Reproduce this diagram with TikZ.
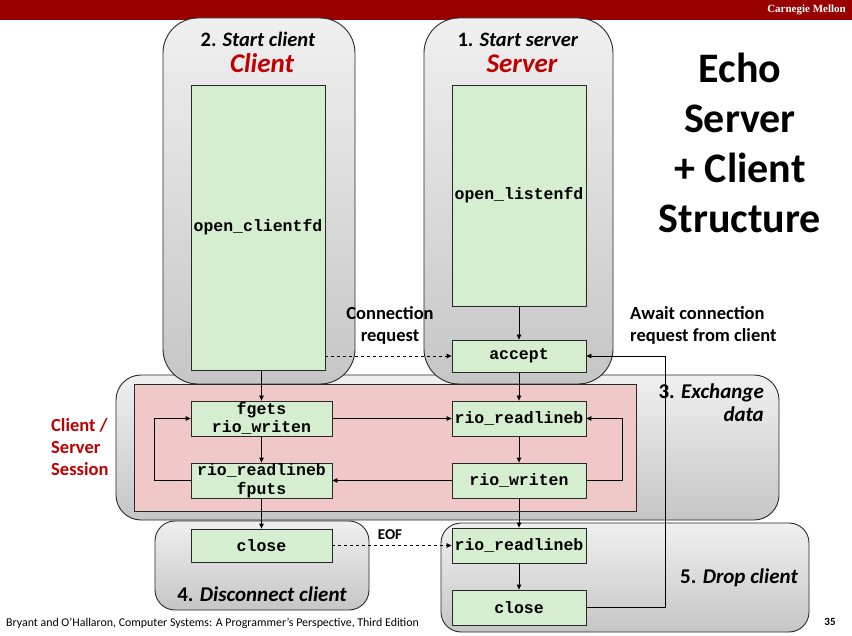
\documentclass[tikz,border=0pt]{standalone}
\usepackage{fontspec}
\setmainfont{Carlito}
\setmonofont{Liberation Mono}
\newfontfamily\timesf{Liberation Serif}
\usetikzlibrary{arrows.meta}
\definecolor{cmured}{RGB}{153,0,0}
\definecolor{labred}{RGB}{192,0,0}
\definecolor{boxgreen}{RGB}{214,238,208}
\definecolor{sesspink}{RGB}{240,200,200}
\definecolor{edge}{RGB}{40,40,40}
\tikzset{
  panel/.style={draw=edge, line width=0.9pt, top color=gray!12, bottom color=gray!45},
  fn/.style={draw=edge, line width=0.8pt, fill=boxgreen, inner sep=0pt, align=center,
    font=\ttfamily\bfseries\fontsize{16.5}{18.5}\selectfont},
  arr/.style={draw=black, line width=0.8pt, -{Triangle[length=5pt,width=4.5pt]}},
  lbl/.style={font=\bfseries\fontsize{18.5}{22}\selectfont, align=center, inner sep=0pt},
  stage/.style={font=\bfseries\fontsize{21}{24}\selectfont, inner sep=0pt},
  ptitle/.style={font=\fontsize{20.5}{22}\selectfont, inner sep=0pt, anchor=base, text height=15pt, text depth=2pt},
  pname/.style={font=\bfseries\itshape\fontsize{27}{30}\selectfont, text=labred, inner sep=0pt, anchor=base, text height=19pt, text depth=0pt}
}
\begin{document}
\begin{tikzpicture}[x=1pt,y=-1pt]
\useasboundingbox (0,0) rectangle (852,636);
\fill[white] (0,0) rectangle (852,636);
% header
\fill[cmured] (0,0) rectangle (852,20);
\node[anchor=east, text=white, font=\timesf\bfseries\fontsize{11}{13}\selectfont, inner sep=0pt] (cmu) at (846,10) {Carnegie Mellon};
% exchange panel
\path[panel, rounded corners=25] (116,375) rectangle (779,520);
% client and server panels
\path[panel, rounded corners=35] (163,18) rectangle (355,384);
\path[panel, rounded corners=35] (424,18) rectangle (613,384);
% session area
\filldraw[fill=sesspink, draw=edge, line width=0.8pt] (134,384) rectangle (636,511);
% disconnect and drop panels
\path[panel, rounded corners=20] (155,521) rectangle (369,610);
\path[panel, rounded corners=20] (441,523) rectangle (809,632);
% panel titles
\node[ptitle] (t2) at (258,47) {\textbf{2.} \textbf{\itshape Start client}};
\node[pname] (tc) at (262,73) {Client};
\node[ptitle] (t1) at (518,47) {\textbf{1.} \textbf{\itshape Start server}};
\node[pname] (ts) at (522,73) {Server};
% big title
\node[font=\bfseries\fontsize{42}{50}\selectfont, align=center, inner sep=0pt] (title) at (740,143) {Echo\\Server\\+ Client\\Structure};
% function boxes
\node[fn, minimum width=134pt, minimum height=285pt] (cofd) at (258,227.5) {open\_clientfd};
\node[fn, minimum width=134pt, minimum height=221pt] (solfd) at (519,195.5) {open\_listenfd};
\node[fn, minimum width=134pt, minimum height=32pt] (acc) at (519,356) {accept};
\node[fn, minimum width=141pt, minimum height=35pt] (cfg) at (261.5,418.5) {fgets\\rio\_writen};
\node[fn, minimum width=141pt, minimum height=35pt] (crl) at (261.5,480.5) {rio\_readlineb\\fputs};
\node[fn, minimum width=134pt, minimum height=35pt] (srl) at (519,418.5) {rio\_readlineb};
\node[fn, minimum width=134pt, minimum height=35pt] (srw) at (519,480.5) {rio\_writen};
\node[fn, minimum width=141pt, minimum height=33pt] (ccl) at (261.5,545.5) {close};
\node[fn, minimum width=134pt, minimum height=35pt] (srl2) at (519,545.5) {rio\_readlineb};
\node[fn, minimum width=134pt, minimum height=35pt] (scl) at (519,607.5) {close};
% labels
\node[lbl] (conn) at (390,325) {Connection\\request};
\node[lbl, align=left, anchor=west] (await) at (630,325) {Await connection\\request from client};
\node[font=\fontsize{21}{23}\selectfont, align=right, anchor=north east, inner sep=0pt] (xch) at (764,384) {\textbf{3.} \textbf{\itshape Exchange}\\\textbf{\itshape data}};
\node[lbl, align=left, anchor=west, text=labred] (sess) at (51,447) {Client /\\Server\\Session};
\node[stage] (t4) at (262,594) {4. \itshape Disconnect client};
\node[stage] (t5) at (739,578) {5. \itshape Drop client};
\node[font=\bfseries\fontsize{15}{17}\selectfont, inner sep=0pt] (eof) at (390,535) {EOF};
% footer
\node[anchor=west, font=\fontsize{11.9}{14}\selectfont, inner sep=0pt] (foot) at (6,623) {Bryant and O’Hallaron, Computer Systems: A Programmer’s Perspective, Third Edition};
\node[font=\bfseries\fontsize{11}{13}\selectfont, inner sep=0pt] (pg) at (830,622) {35};
% connectors
\draw[arr] (solfd) -- (acc);
\draw[arr, dashed] (cofd.east |- acc.west) -- (acc.west);
\draw[arr] (cfg.north |- cofd.south) -- (cfg.north);
\draw[arr] (acc) -- (srl);
\draw[arr] (cfg) -- (crl);
\draw[arr] (srl) -- (srw);
\draw[arr] (cfg.east) -- (srl.west);
\draw[arr] (srw.west) -- (crl.east);
\draw[arr] (crl.west) -- ++(-36,0) |- (cfg.west);
\draw[arr] (srw.east) -- ++(36,0) |- (srl.east);
\draw[arr] (crl) -- (ccl);
\draw[arr] (srw) -- (srl2);
\draw[arr] (srl2) -- (scl);
\draw[arr, dashed] (ccl.east) -- (ccl.east -| srl2.west);
\draw[arr] (scl.east) -- ++(79,0) |- (acc.east);
\end{tikzpicture}
\end{document}
